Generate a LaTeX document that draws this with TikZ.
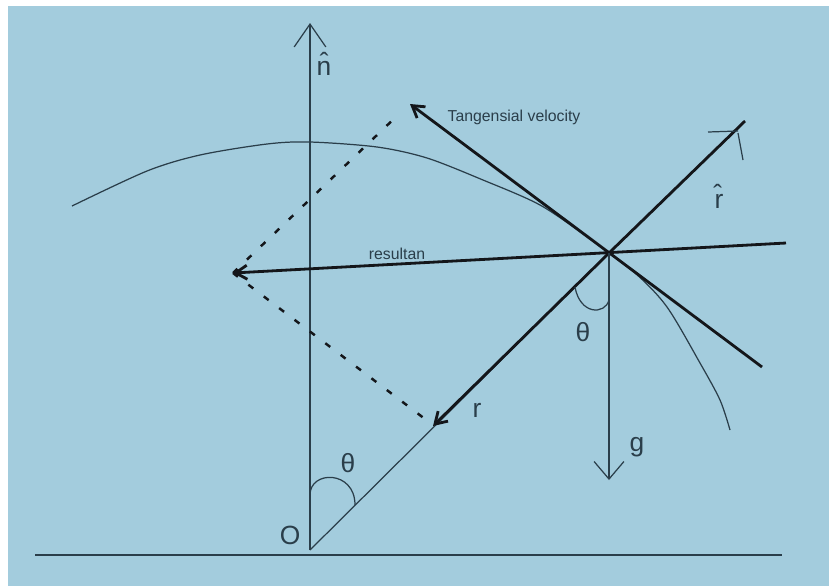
\documentclass[tikz,border=0pt]{standalone}
\usepackage{fontspec}
\setmainfont{Liberation Sans}
\usetikzlibrary{arrows.meta}
\definecolor{bgblue}{RGB}{163,204,221}
\definecolor{ink}{RGB}{42,62,74}
\definecolor{inkdark}{RGB}{20,22,26}
\tikzset{
  axisline/.style={ink, line width=0.7pt},
  vec/.style={inkdark, line width=1.6pt, -{Straight Barb[length=6.5pt,width=8pt]}},
  thickline/.style={inkdark, line width=1.6pt},
  dots/.style={inkdark, line width=1.4pt, dash pattern=on 3.5pt off 7.5pt},
  biglabel/.style={ink, font=\fontsize{15}{15}\selectfont},
  smalllabel/.style={ink, font=\fontsize{9}{9}\selectfont}
}
\begin{document}
\begin{tikzpicture}[x=0.02cm,y=-0.02cm]
\useasboundingbox (0,0) rectangle (838,586);
\fill[bgblue] (8,6) rectangle (829,586);
% points
\coordinate (O) at (310,550);
\coordinate (P) at (609,253);
\coordinate (ntop) at (310,23);
\coordinate (rhat) at (745,121);
\coordinate (rtip) at (433,426);
\coordinate (vtip) at (410,104);
\coordinate (vend) at (762,367);
\coordinate (restip) at (233,273);
\coordinate (resend) at (786,243);
\coordinate (gtip) at (609,480);
\coordinate (dotA) at (400,113);
\coordinate (dotB) at (425,419);
% ground and normal
\draw[axisline] (35,555) -- (782,555);
\draw[axisline, -{Straight Barb[length=13pt,width=18pt]}] (O) -- (ntop);
\draw[axisline] (O) -- (P);
% path of the body
\draw[axisline] plot[smooth] coordinates {(72,206) (147,171) (200,155) (267,144)
  (310,142) (377,147) (427,158) (483,180) (540,205) (590,239) (635,273)
  (667,307) (700,363) (720,400) (730,430)};
% vectors
\draw[vec] (P) -- (rtip);
\draw[vec] (vend) -- (vtip);
\draw[vec] (resend) -- (restip);
\draw[thickline] (P) -- (rhat);
\draw[axisline] (708,132) -- (738,131) (738,133) -- (743,160);
\draw[axisline, -{Straight Barb[length=10pt,width=17pt]}] (P) -- (gtip);
% parallelogram
\draw[dots] (restip) -- (dotA);
\draw[dots] (restip) -- (dotB);
% angles
\draw[axisline] (310,495) .. controls (310,470) and (355,470) .. (355,505);
\draw[axisline] (575,287) .. controls (580,315) and (605,315) .. (609,300);
% labels
\node[biglabel] (nlab) at (324,64) {\^{n}};
\node[biglabel] (rhatlab) at (719,196) {\^{r}};
\node[smalllabel] (vlab) at (514,117) {Tangensial velocity};
\node[smalllabel] (reslab) at (397,254) {resultan};
\node[biglabel] (thP) at (583,332) {θ};
\node[biglabel] (rlab) at (477,410) {r};
\node[biglabel] (glab) at (637,447) {g};
\node[biglabel] (thO) at (348,463) {θ};
\node[biglabel] (Olab) at (290,535) {O};
\end{tikzpicture}
\end{document}
